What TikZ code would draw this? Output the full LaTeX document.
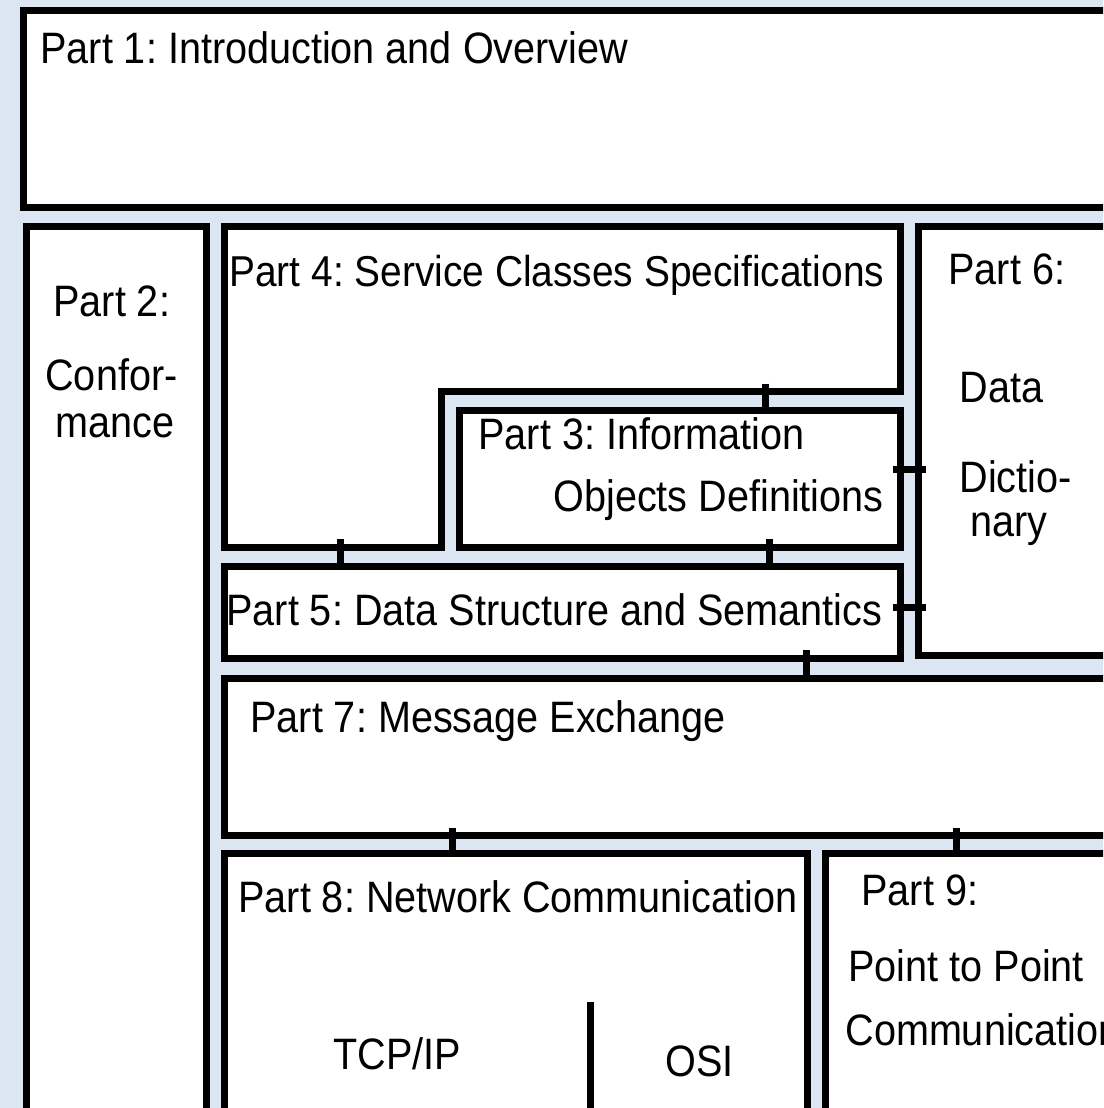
\documentclass[tikz,border=0pt]{standalone}
\usepackage{fontspec}
\setmainfont[FakeStretch=0.9]{Liberation Sans}
\usetikzlibrary{positioning}
\frenchspacing

\definecolor{paneblue}{RGB}{220,230,242}

\begin{document}
\begin{tikzpicture}[
    x=0.5pt, y=-0.5pt,
    font=\fontsize{22}{26}\selectfont,
    part/.style={draw=black, line width=3.5pt, fill=white, rectangle, inner sep=0pt, outer sep=0pt, anchor=north west},
    lbl/.style={anchor=base west, inner sep=0pt},
    link/.style={draw=black, line width=3.5pt, shorten <=-4pt, shorten >=-1.75pt},
    hlink/.style={draw=black, line width=3.5pt, shorten <=-4pt, shorten >=-4pt}
]

% ====================
%     Background
% ====================
\useasboundingbox (0,0) rectangle (1103,1108);
\fill[paneblue] (0,0) rectangle (1103,1108);
\clip (0,0) rectangle (1103,1108);

% ====================
%     Parts
% ====================

% Part 1 and Part 2
\node[part, minimum width=558.25pt, minimum height=98.5pt] (p1) at (23.5,10.5) {};
\node[part, minimum width=90pt, minimum height=456.75pt] (p2) at (26.5,226.5) {};

% Part 4 (L-shaped, Part 3 sits in its notch)
\draw[draw=black, line width=3.5pt, fill=white]
    (224.5,226.5) -- (900.5,226.5) -- (900.5,391.5) coordinate (p4notch)
    -- (441,391.5) -- (441,547) -- (224.5,547) -- cycle;

% Part 3, 5, 6
\node[part, minimum width=220.5pt, minimum height=68.5pt] (p3) at (459.5,410) {};
\node[part, minimum width=111pt, minimum height=214.5pt] (p6) at (918,226.5) {};
\node[part, minimum width=338pt, minimum height=45.75pt] (p5) at (224.5,566.5) {};

% Part 7, 8, 9
\node[part, minimum width=457.75pt, minimum height=78.75pt] (p7) at (224.5,678) {};
\node[part, minimum width=291.25pt, minimum height=143.25pt] (p8) at (224.5,853.5) {};
\node[part, minimum width=157.25pt, minimum height=143.25pt] (p9) at (825.5,853.5) {};

% ====================
%     Connections
% ====================
\coordinate (k43) at (765.5,391.5);
\coordinate (k45) at (340.5,547);
\coordinate (k35) at (769,0);
\coordinate (k36) at (0,469.5);
\coordinate (k56) at (0,607.5);
\coordinate (k57) at (806.5,0);
\coordinate (k78) at (452,0);
\coordinate (k79) at (956.5,0);
\coordinate (split) at (590.5,1002);

\draw[link] (k43) -- (k43 |- p3.north);
\draw[link] (k45) -- (k45 |- p5.north);
\draw[link] (p3.south -| k35) -- (p5.north -| k35);
\draw[hlink] (p3.east |- k36) -- (p6.west |- k36);
\draw[hlink] (p5.east |- k56) -- (p6.west |- k56);
\draw[link] (p5.south -| k57) -- (p7.north -| k57);
\draw[link] (p7.south -| k78) -- (p8.north -| k78);
\draw[link] (p7.south -| k79) -- (p9.north -| k79);

% TCP/IP | OSI divider
\draw[line width=3.5pt] (split) -- (split |- p8.south);

% ====================
%     Labels
% ====================
\node[lbl] (t1) at (40,63) {Part 1: Introduction and Overview};
\node[lbl] (t2a) at (53,316) {Part 2:};
\node[lbl] (t2b) at (45,390) {Confor-};
\node[lbl] (t2c) at (55,437) {mance};
\node[lbl, font=\fontsize{21.6}{26}\selectfont] (t4) at (229,286) {Part 4: Service Classes Specifications};
\node[lbl] (t3a) at (478,449) {Part 3: Information};
\node[lbl] (t3b) at (553,511) {Objects Definitions};
\node[lbl] (t6a) at (948,284) {Part 6:};
\node[lbl] (t6b) at (959,402) {Data};
\node[lbl] (t6c) at (959,492) {Dictio-};
\node[lbl] (t6d) at (970,536) {nary};
\node[lbl] (t5) at (226,625) {Part 5: Data Structure and Semantics};
\node[lbl] (t7) at (250,732) {Part 7: Message Exchange};
\node[lbl] (t8) at (238,912) {Part 8: Network Communication};
\node[lbl] (tcp) at (333,1069) {TCP/IP};
\node[lbl] (osi) at (665,1076) {OSI};
\node[lbl] (t9a) at (861,905) {Part 9:};
\node[lbl] (t9b) at (848,981) {Point to Point};
\node[lbl] (t9c) at (845,1045) {Communication};

\end{tikzpicture}
\end{document}
